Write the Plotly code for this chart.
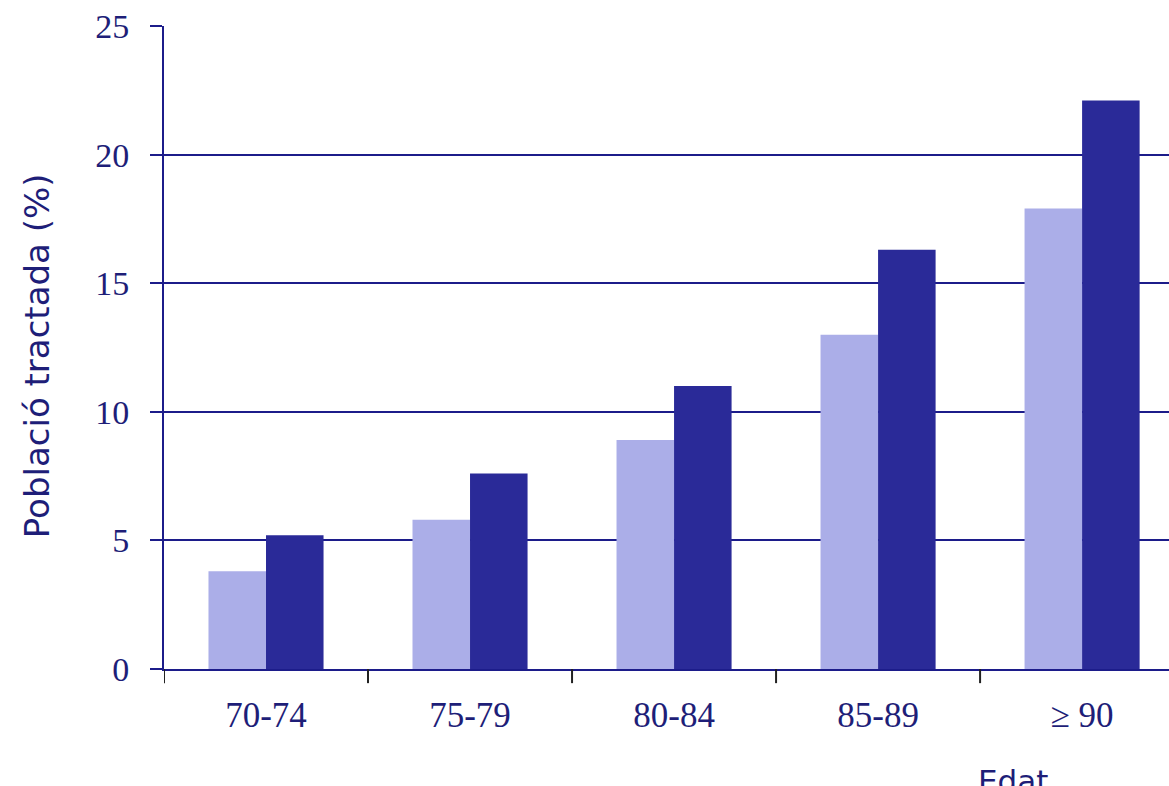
import plotly.graph_objects as go

categories = ["70-74", "75-79", "80-84", "85-89", "≥ 90"]
series_light = [3.8, 5.8, 8.9, 13.0, 17.9]
series_dark = [5.2, 7.6, 11.0, 16.3, 22.1]
y_ticks = [0, 5, 10, 15, 20, 25]

navy = "#1c1c8a"
text_col = "#1e1e78"

fig = go.Figure()
fig.add_trace(go.Bar(x=categories, y=series_light, marker=dict(color="#abaee8", line=dict(width=0)), showlegend=False))
fig.add_trace(go.Bar(x=categories, y=series_dark, marker=dict(color="#2a2a98", line=dict(width=0)), showlegend=False))

fig.update_layout(
    width=1169, height=786,
    margin=dict(l=164, r=0, t=26, b=117),
    paper_bgcolor="white", plot_bgcolor="white",
    barmode="group", bargap=0.436, bargroupgap=0,
    xaxis=dict(
        range=[-0.5, 4.426], showgrid=False, showline=True, linecolor=navy, linewidth=2,
        ticks="", tickfont=dict(family="Liberation Serif", size=35, color=text_col),
        ticklabelstandoff=14,
    ),
    yaxis=dict(
        range=[0, 25], tickvals=y_ticks, showgrid=True, gridcolor=navy, gridwidth=2,
        showline=True, linecolor=navy, linewidth=2, ticks="outside", ticklen=12, tickcolor=navy,
        tickwidth=2, zeroline=False, ticklabelstandoff=14,
        tickfont=dict(family="Liberation Serif", size=34, color=text_col),
    ),
    annotations=[
        dict(text="Població tractada (%)", xref="paper", yref="paper", x=-0.1264, y=0.488,
             xanchor="center", yanchor="middle", textangle=-90, showarrow=False,
             font=dict(family="DejaVu Sans", size=34, color=text_col)),
        dict(text="Edat", xref="paper", yref="paper", x=0.845, y=-0.143, xanchor="center", yanchor="top",
             showarrow=False, font=dict(family="DejaVu Sans", size=31, color=text_col)),
    ],
    shapes=[
        dict(type="line", xref="x", yref="paper", x0=i + 0.5, x1=i + 0.5, y0=0, y1=-0.022,
             line=dict(color="#222", width=2))
        for i in range(-1, 4)
    ],
)

fig.write_html("out.html")
